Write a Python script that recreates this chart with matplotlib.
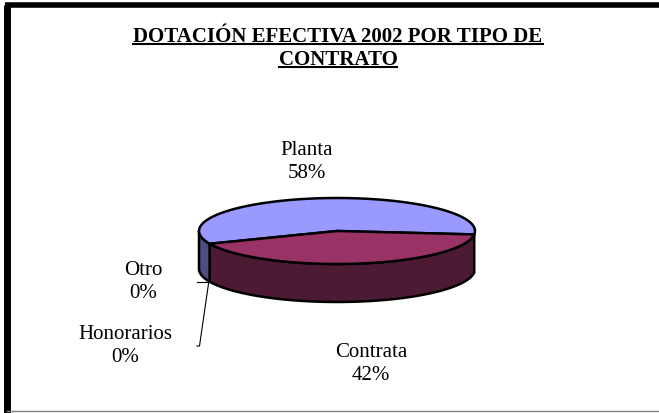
import matplotlib.pyplot as plt
import numpy as np
from matplotlib.patches import Polygon

# data
categories = ['Planta', 'Otro', 'Honorarios', 'Contrata']
shares = [58, 0, 0, 42]
top_colors = ['#9999ff', '#ccffff', '#ffffcc', '#993366']
side_colors = ['#4d4d80', '#668080', '#808066', '#4d1a33']

title_lines = ['DOTACIÓN EFECTIVA 2002 POR TIPO DE', 'CONTRATO']

plt.rcParams['font.family'] = ['Liberation Serif', 'DejaVu Serif']

W, H = 659, 414
fig = plt.figure(figsize=(W / 100, H / 100), dpi=100)
ax = fig.add_axes([0, 0, 1, 1])
ax.set_xlim(0, W)
ax.set_ylim(H, 0)
ax.axis('off')

# frame (cropped on right/bottom)
ax.plot([7, 7], [H, 6], color='black', lw=5, solid_capstyle='butt')
ax.plot([4.5, W], [5.5, 5.5], color='black', lw=4, solid_capstyle='butt')
ax.plot([7, W], [412.5, 412.5], color='#808080', lw=1)

# pie geometry
cx, cy = 337, 232
rx, ry = 138, 33
depth = 38
start = -6.0


def pt(t, dy=0.0):
    return cx + rx * np.cos(np.radians(t)), cy - ry * np.sin(np.radians(t)) + dy


total = float(sum(shares))
bounds = []
a = start
for s in shares:
    b = a + 360.0 * s / total
    bounds.append((a, b))
    a = b

# sides (front half: 180..360)
for (a1, a2), col in zip(bounds, side_colors):
    lo = max(a1, 180.0)
    hi = min(a2, 360.0)
    if hi - lo <= 0:
        continue
    ts = np.linspace(lo, hi, 80)
    top = [pt(t) for t in ts]
    bot = [pt(t, depth) for t in ts[::-1]]
    ax.add_patch(Polygon(top + bot, closed=True, facecolor=col,
                         edgecolor='black', lw=1.8, joinstyle='round'))

# tops
for (a1, a2), col in zip(bounds, top_colors):
    if a2 - a1 <= 0:
        continue
    ts = np.linspace(a1, a2, 120)
    verts = [(cx, cy)] + [pt(t) for t in ts]
    ax.add_patch(Polygon(verts, closed=True, facecolor=col,
                         edgecolor='black', lw=1.8, joinstyle='round'))

# labels
lab_pos = {'Planta': (307, 162), 'Contrata': (371, 364),
           'Otro': (143, 282), 'Honorarios': (125, 346)}
for cat, s in zip(categories, shares):
    x, y = lab_pos[cat]
    ax.text(x, y, f'{cat}\n{s:.0f}%', ha='center', va='center',
            fontsize=15, linespacing=1.25)

# leader lines for the tiny slices
edge = bounds[1][0]
axp, ayp = pt(edge, depth)
ax.plot([197, axp - 2], [283, 283], color='black', lw=0.8)
ax.plot([197, 199.5, axp - 1], [347, 347, ayp], color='black', lw=0.8)

# title, underlined
fig.canvas.draw()
renderer = fig.canvas.get_renderer()
for i, line in enumerate(title_lines):
    t = ax.text(338, 37 + 23 * i, line, ha='center', va='center',
                fontsize=15, fontweight='bold')
    bb = t.get_window_extent(renderer).transformed(ax.transData.inverted())
    x0, x1 = sorted([bb.x0, bb.x1])
    yb = max(bb.y0, bb.y1)
    ax.plot([x0, x1], [yb - 2, yb - 2], color='black', lw=1.5)

fig.savefig('out.png', dpi=100)
